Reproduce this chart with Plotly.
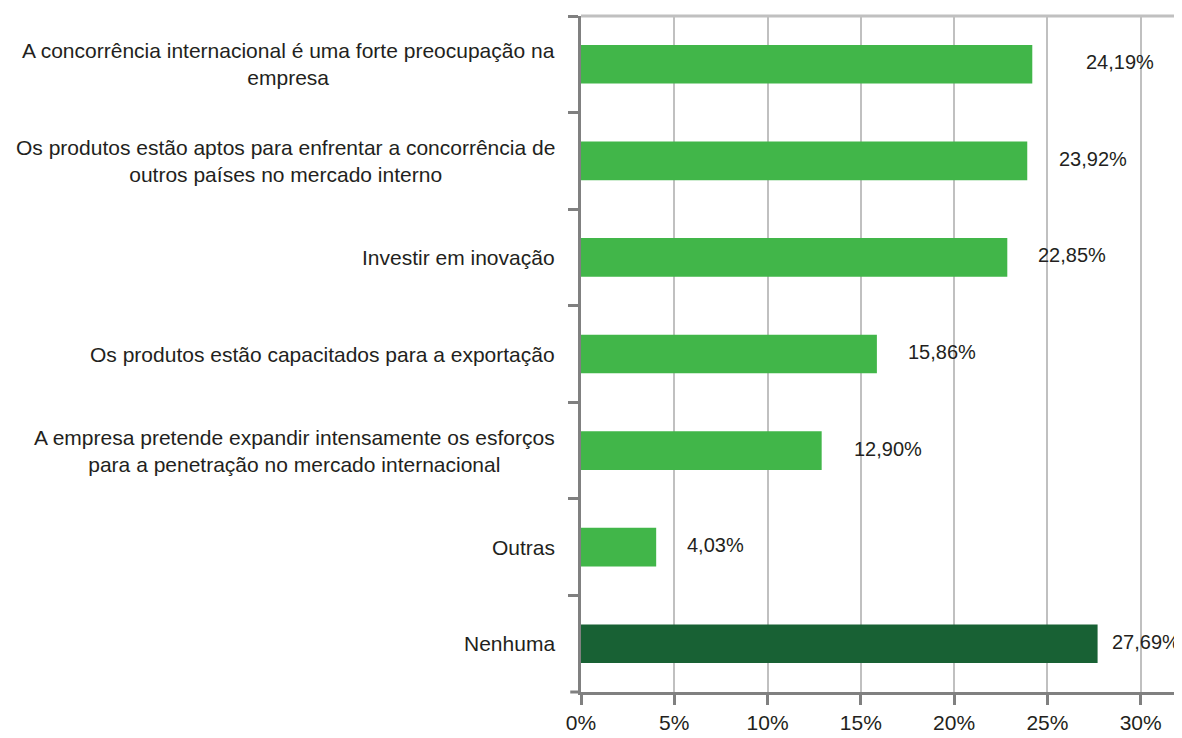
import plotly.graph_objects as go

# Dados do gráfico
categorias = [
    "A concorrência internacional é uma forte preocupação na<br>empresa",
    "Os produtos estão aptos para enfrentar a concorrência de<br>outros países no mercado interno",
    "Investir em inovação",
    "Os produtos estão capacitados para a exportação",
    "A empresa pretende expandir intensamente os esforços<br>para a penetração no mercado internacional",
    "Outras",
    "Nenhuma",
]
valores = [24.19, 23.92, 22.85, 15.86, 12.90, 4.03, 27.69]
rotulos = ["24,19%", "23,92%", "22,85%", "15,86%", "12,90%", "4,03%", "27,69%"]
ticks_x = [0, 5, 10, 15, 20, 25, 30]
ticks_x_txt = ["0%", "5%", "10%", "15%", "20%", "25%", "30%"]

VERDE = "#41b649"
VERDE_ESCURO = "#186134"
cores = [VERDE] * 6 + [VERDE_ESCURO]
desloc_rotulo = [52, 30, 29, 29, 30, 29, 12]

FONTE = "Liberation Sans Narrow, Arial Narrow, Liberation Sans, Arial, sans-serif"
COR_TXT = "#231f20"

# a página tem 8px de margem no body: a figura é reduzida para caber na janela
fig = go.Figure(go.Bar(
    x=valores,
    y=categorias,
    orientation="h",
    marker=dict(color=cores, line=dict(width=0)),
    width=0.4,
    hoverinfo="skip",
))

# rótulos das categorias (linhas centradas, como no original)
for cat in categorias:
    fig.add_annotation(
        x=0, xref="paper", y=cat, yref="y",
        text=cat, showarrow=False,
        xanchor="right", align="center", xshift=-24, yshift=0,
        font=dict(family=FONTE, size=21, color=COR_TXT),
    )

# rótulos dos valores
for cat, v, txt, dx in zip(categorias, valores, rotulos, desloc_rotulo):
    fig.add_annotation(
        x=v, y=cat, text=txt, showarrow=False,
        xanchor="left", xshift=dx, yshift=2,
        font=dict(family=FONTE, size=20, color=COR_TXT),
    )

fig.update_layout(
    width=1174, height=730,
    margin=dict(l=573, r=4, t=8, b=46),
    plot_bgcolor="white", paper_bgcolor="white",
    showlegend=False,
)

fig.update_xaxes(
    range=[0, 32],
    tickvals=ticks_x, ticktext=ticks_x_txt,
    showgrid=True, gridcolor="#c0c0c0", gridwidth=2,
    showline=True, linecolor="#808080", linewidth=3,
    ticks="outside", ticklen=10, tickwidth=3, tickcolor="#808080",
    tickfont=dict(family=FONTE, size=21, color=COR_TXT),
    zeroline=False,
)

fig.update_yaxes(
    autorange="reversed",
    showticklabels=False,
    showgrid=False,
    showline=True, linecolor="#808080", linewidth=3,
    ticks="outside", tickson="boundaries", ticklen=10, tickwidth=3, tickcolor="#808080",
)

# moldura superior e direita em cinza claro
fig.add_shape(type="line", xref="paper", yref="paper", x0=0, x1=1, y0=1, y1=1,
              line=dict(color="#c0c0c0", width=3))
fig.add_shape(type="line", xref="paper", yref="paper", x0=1, x1=1, y0=0, y1=1,
              line=dict(color="#c0c0c0", width=3))
# eixo x prolongado para a esquerda até o traço do eixo y
fig.add_shape(type="line", xref="paper", yref="paper", x0=-0.018, x1=0, y0=0, y1=0,
              line=dict(color="#808080", width=3))

fig.write_html("out.html")
